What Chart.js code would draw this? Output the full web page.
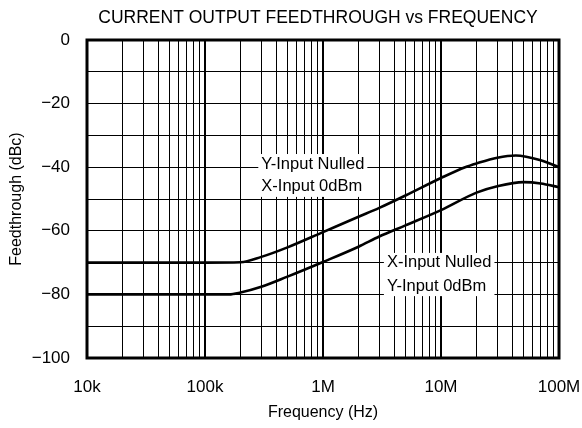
<!DOCTYPE html>
<html>
<head>
<meta charset="utf-8">
<script src="https://cdn.jsdelivr.net/npm/chart.js@4"></script>
<style>
  body { margin: 0; background: #fff; }
  canvas { display: block; }
</style>
</head>
<body>
<canvas id="c" width="582" height="428"></canvas>
<script>
// chart data
const freqTicks = [1e4, 2e4, 3e4, 4e4, 5e4, 6e4, 7e4, 8e4, 9e4,
  1e5, 2e5, 3e5, 4e5, 5e5, 6e5, 7e5, 8e5, 9e5,
  1e6, 2e6, 3e6, 4e6, 5e6, 6e6, 7e6, 8e6, 9e6,
  1e7, 2e7, 3e7, 4e7, 5e7, 6e7, 7e7, 8e7, 9e7, 1e8];
const decadeLabels = { 1e4: '10k', 1e5: '100k', 1e6: '1M', 1e7: '10M', 1e8: '100M' };

const yNullFreq = [1e4, 1e5, 2e5, 3e5, 5e5, 1e6, 2e6, 3e6, 5e6, 1e7, 1.6e7, 2e7, 3e7, 4.3e7, 7e7, 1e8];
const yNullDb   = [-70, -70, -69.9, -68.2, -65.2, -60.4, -55.6, -52.8, -48.9, -43.4, -40, -38.8, -37, -36.3, -37.8, -40];

const xNullFreq = [1e4, 1e5, 1.6e5, 2e5, 3e5, 5e5, 1e6, 2e6, 3e6, 5e6, 1e7, 2e7, 3e7, 5e7, 7e7, 1e8];
const xNullDb   = [-80, -80, -80, -79.4, -77.6, -74.4, -69.8, -65, -61.8, -58.3, -53.5, -48, -46, -44.7, -45.1, -46.3];

const notes = [
  { f: 3e5,  db: [-39, -46.2],   lines: ['Y-Input Nulled', 'X-Input 0dBm'] },
  { f: 3.48e6, db: [-70.1, -77.4], lines: ['X-Input Nulled', 'Y-Input 0dBm'] }
];

const FONT = "'Liberation Sans', Arial, sans-serif";
Chart.defaults.font.family = FONT;
Chart.defaults.font.size = 17;
Chart.defaults.color = '#000';

const toPts = (fs, vs) => fs.map((f, i) => ({ x: f, y: vs[i] }));

const frameAndNotes = {
  id: 'frameAndNotes',
  beforeDatasetsDraw(chart) {
    const { ctx, chartArea: a, scales } = chart;
    ctx.save();
    // note boxes over the grid
    ctx.font = '16.5px ' + FONT;
    ctx.textBaseline = 'middle';
    notes.forEach(n => {
      const x = scales.x.getPixelForValue(n.f);
      const y1 = scales.y.getPixelForValue(n.db[0]);
      const y2 = scales.y.getPixelForValue(n.db[n.db.length - 1]);
      const w = Math.max(...n.lines.map(t => ctx.measureText(t).width));
      ctx.fillStyle = '#fff';
      ctx.fillRect(x - 3, y1 - 10, w + 6, y2 - y1 + 20);
      ctx.fillStyle = '#000';
      n.lines.forEach((t, i) => ctx.fillText(t, x, scales.y.getPixelForValue(n.db[i])));
    });
    ctx.strokeStyle = '#000';
    ctx.lineWidth = 3;
    ctx.strokeRect(a.left, a.top, a.right - a.left, a.bottom - a.top);
    ctx.restore();
  },
  afterDraw(chart) {
    const { ctx, chartArea: a } = chart;
    ctx.save();
    ctx.font = '17.5px ' + FONT;
    ctx.fillStyle = '#000';
    ctx.textAlign = 'center';
    ctx.textBaseline = 'middle';
    ctx.fillText('CURRENT OUTPUT FEEDTHROUGH vs FREQUENCY', (a.left + a.right) / 2 - 5, 18);
    ctx.restore();
  }
};

new Chart(document.getElementById('c'), {
  type: 'line',
  data: {
    datasets: [
      { label: 'Y-Input Nulled', data: toPts(yNullFreq, yNullDb) },
      { label: 'X-Input Nulled', data: toPts(xNullFreq, xNullDb) }
    ]
  },
  options: {
    responsive: false,
    animation: false,
    layout: { padding: { top: 40, right: 23, left: 0, bottom: 0 } },
    elements: {
      point: { radius: 0 },
      line: { borderColor: '#000', borderWidth: 2.6, cubicInterpolationMode: 'monotone', fill: false }
    },
    plugins: { legend: { display: false }, tooltip: { enabled: false } },
    scales: {
      x: {
        type: 'logarithmic',
        min: 1e4, max: 1e8,
        afterBuildTicks: s => { s.ticks = freqTicks.map(v => ({ value: v })); },
        afterFit: s => { s.height = 70; s.paddingLeft = 0; s.paddingRight = 0; },
        border: { display: false },
        grid: {
          color: '#000',
          drawTicks: false,
          lineWidth: c => (c.tick && Number.isInteger(Math.round(Math.log10(c.tick.value) * 1000) / 1000)) ? 2 : 1
        },
        ticks: {
          padding: 19,
          autoSkip: false,
          maxRotation: 0,
          callback: v => decadeLabels[v] || ''
        },
        title: { display: true, text: 'Frequency (Hz)', font: { size: 16 }, padding: { top: 0, bottom: 6 } }
      },
      y: {
        min: -100, max: 0,
        afterFit: s => { s.width = 87; },
        border: { display: false },
        grid: { color: '#000', drawTicks: false, lineWidth: 1 },
        ticks: {
          stepSize: 10,
          padding: 17,
          callback: v => v % 20 !== 0 ? '' : (v === 0 ? '0' : '\u2212' + Math.abs(v))
        },
        title: { display: true, text: 'Feedthrough (dBc)', font: { size: 16 }, padding: { top: 7, bottom: 0 } }
      }
    }
  },
  plugins: [frameAndNotes]
});
</script>
</body>
</html>
